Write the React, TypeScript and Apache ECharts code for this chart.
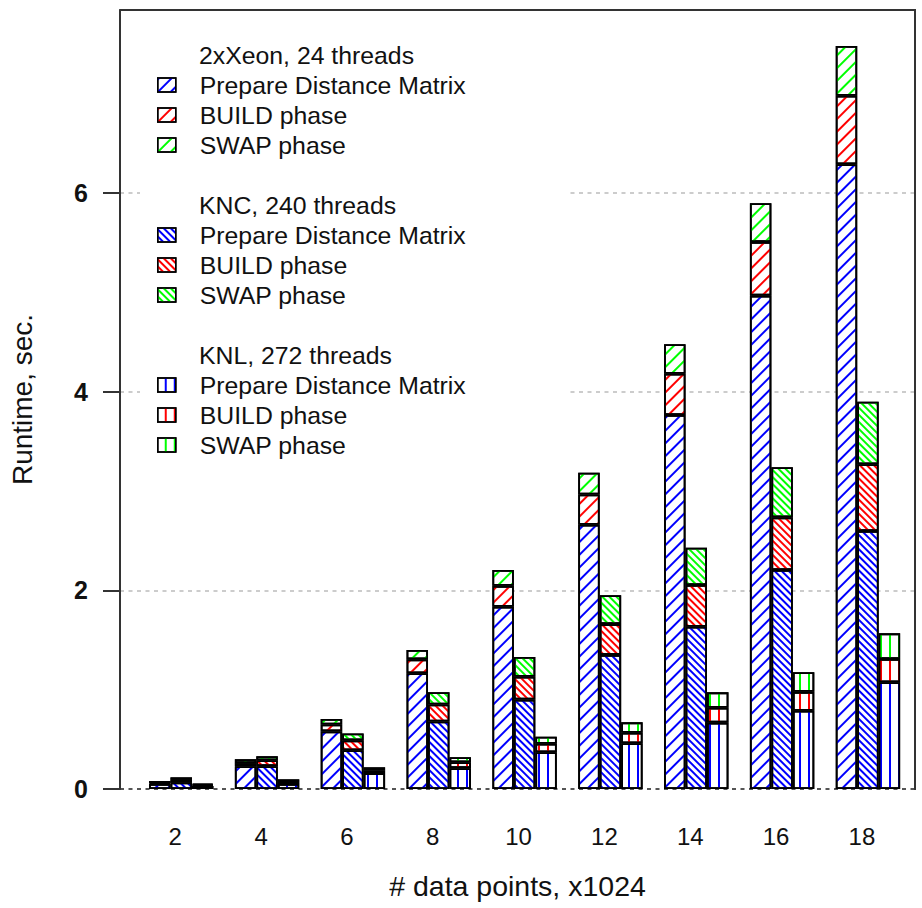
import React, { useEffect, useRef } from 'react';
import * as echarts from 'echarts';

const categories = ['2', '4', '6', '8', '10', '12', '14', '16', '18'];

const xeonPDM = [0.05, 0.23, 0.58, 1.165, 1.835, 2.66, 3.765, 4.967, 6.29];
const xeonBuild = [0.01, 0.03, 0.07, 0.14, 0.21, 0.305, 0.416, 0.54, 0.69];
const xeonSwap = [0.02, 0.04, 0.055, 0.095, 0.16, 0.22, 0.296, 0.39, 0.5];

const kncPDM = [0.067, 0.23, 0.39, 0.68, 0.9, 1.35, 1.634, 2.205, 2.597];
const kncBuild = [0.025, 0.06, 0.1, 0.17, 0.23, 0.31, 0.42, 0.53, 0.672];
const kncSwap = [0.025, 0.04, 0.07, 0.125, 0.2, 0.29, 0.376, 0.504, 0.63];

const knlPDM = [0.03, 0.05, 0.16, 0.21, 0.37, 0.46, 0.668, 0.788, 1.074];
const knlBuild = [0.01, 0.02, 0.027, 0.06, 0.085, 0.107, 0.15, 0.19, 0.235];
const knlSwap = [0.013, 0.027, 0.031, 0.05, 0.072, 0.104, 0.155, 0.197, 0.258];

const yTicks = [0, 2, 4, 6];
const phaseNames = ['Prepare Distance Matrix', 'BUILD phase', 'SWAP phase'];
const platformNames = ['2xXeon, 24 threads', 'KNC, 240 threads', 'KNL, 272 threads'];
const platformKeys = ['xeon', 'knc', 'knl'];
const xTitle = '# data points, x1024';
const yTitle = 'Runtime, sec.';

const FONT = 'Liberation Sans, Arial, Helvetica, sans-serif';

export default function App() {
  const ref = useRef<HTMLDivElement>(null);
  useEffect(() => {
    document.body.style.margin = '0';
    const chart = echarts.init(ref.current!, null, { renderer: 'svg' });

    const Y0 = 789;
    const TOP = 10;
    const LEFT = 119.5;
    const RIGHT = 915;
    const UNIT = 99.33;
    const YMAX = (Y0 - TOP) / UNIT;
    const BAR = 21.46;
    const GROUP_LEFT = 138.3;
    const GROUP_W = BAR * 4 * 9;
    const LEGEND_FS = 24.8;

    const colors = ['#0000ff', '#ff0000', '#00ff00'];
    const decals = [
      { rotation: -Math.PI / 4, dashArrayY: [2, 7] },
      { rotation: Math.PI / 4, dashArrayY: [2, 3] },
      { rotation: Math.PI / 2, dashArrayY: [2, 7] },
    ];
    const dataSets = [
      [xeonPDM, xeonBuild, xeonSwap],
      [kncPDM, kncBuild, kncSwap],
      [knlPDM, knlBuild, knlSwap],
    ];

    const series: any[] = [];
    platformKeys.forEach((pk, p) => {
      phaseNames.forEach((ph, i) => {
        series.push({
          type: 'bar',
          name: pk + '|' + ph,
          xAxisIndex: 1,
          yAxisIndex: 1,
          stack: pk,
          data: dataSets[p][i],
          barWidth: BAR,
          barGap: '0%',
          z: 3,
          itemStyle: {
            color: '#ffffff',
            borderColor: '#000',
            borderWidth: 1.8,
            decal: {
              symbol: 'rect',
              symbolSize: 1,
              symbolKeepAspect: false,
              color: colors[i],
              dashArrayX: [1, 0],
              dashArrayY: decals[p].dashArrayY,
              rotation: decals[p].rotation,
            },
          },
          emphasis: { disabled: true },
        });
      });
    });

    const legendTops = [70, 220, 370];
    const headerY = [55, 205, 355];
    const legends = platformKeys.map((pk, p) => ({
      left: 157,
      top: legendTops[p],
      orient: 'vertical',
      itemWidth: 18,
      itemHeight: 14,
      itemGap: 0,
      padding: 0,
      selectedMode: false,
      icon: 'rect',
      data: phaseNames.map((ph) => pk + '|' + ph),
      formatter: (name: string) => name.split('|')[1],
      textStyle: {
        fontSize: LEGEND_FS,
        lineHeight: 30,
        color: '#111',
        fontFamily: FONT,
        padding: [0, 0, 0, 19],
      },
      itemStyle: { borderColor: '#000', borderWidth: 1.5 },
      z: 6,
    }));

    const graphics: any[] = [
      {
        type: 'rect',
        silent: true,
        z: 1,
        shape: { x: 140, y: 28, width: 430, height: 434 },
        style: { fill: '#ffffff' },
      },
      {
        type: 'polyline',
        silent: true,
        z: 8,
        shape: { points: [[LEFT, TOP], [RIGHT, TOP], [RIGHT, Y0 + 1]] },
        style: { stroke: '#333', lineWidth: 2, fill: null },
      },
    ];
    platformNames.forEach((t, p) => {
      graphics.push({
        type: 'text',
        silent: true,
        z: 6,
        x: 199,
        y: headerY[p],
        style: {
          text: t,
          fontSize: LEGEND_FS,
          fontFamily: FONT,
          fill: '#111',
          verticalAlign: 'middle',
          align: 'left',
        },
      });
    });

    chart.setOption({
      animation: false,
      textStyle: { fontFamily: FONT },
      grid: [
        { left: LEFT, top: TOP, width: RIGHT - LEFT, height: Y0 - TOP, containLabel: false },
        { left: GROUP_LEFT, top: TOP, width: GROUP_W, height: Y0 - TOP, containLabel: false },
      ],
      xAxis: [
        {
          gridIndex: 0,
          type: 'value',
          min: 0,
          max: 1,
          axisLine: { show: false },
          axisTick: { show: false },
          axisLabel: { show: false },
          splitLine: { show: false },
          name: xTitle,
          nameLocation: 'middle',
          nameGap: 82,
          nameTextStyle: { fontSize: 28.5, color: '#111', fontFamily: FONT },
        },
        {
          gridIndex: 1,
          type: 'category',
          data: categories,
          axisLine: { show: false },
          axisTick: { show: false },
          splitLine: { show: false },
          axisLabel: {
            fontSize: 24,
            color: '#111',
            margin: 35,
            padding: [0, 12, 0, 0],
            fontFamily: FONT,
          },
        },
      ],
      yAxis: [
        {
          gridIndex: 0,
          type: 'value',
          min: 0,
          max: YMAX,
          interval: 2,
          axisLine: { show: true, lineStyle: { color: '#333', width: 2 } },
          axisTick: {
            show: true,
            inside: false,
            length: 17,
            customValues: yTicks,
            lineStyle: { color: '#333', width: 2 },
          },
          axisLabel: {
            customValues: yTicks,
            margin: 32,
            fontSize: 25,
            fontWeight: 'bold',
            color: '#111',
            fontFamily: FONT,
          },
          splitLine: {
            show: true,
            lineStyle: {
              type: [4, 4.5],
              width: 2,
              color: ['#555', '#cccccc', '#cccccc', '#cccccc', '#cccccc'],
            },
          },
          name: yTitle,
          nameLocation: 'middle',
          nameGap: 84,
          nameTextStyle: { fontSize: 28, color: '#111', fontFamily: FONT },
        },
        {
          gridIndex: 1,
          type: 'value',
          min: 0,
          max: YMAX,
          show: false,
        },
      ],
      legend: legends,
      graphic: graphics,
      series,
    });

    return () => chart.dispose();
  }, []);
  return <div ref={ref} style={{ width: 922, height: 908 }} />;
}
